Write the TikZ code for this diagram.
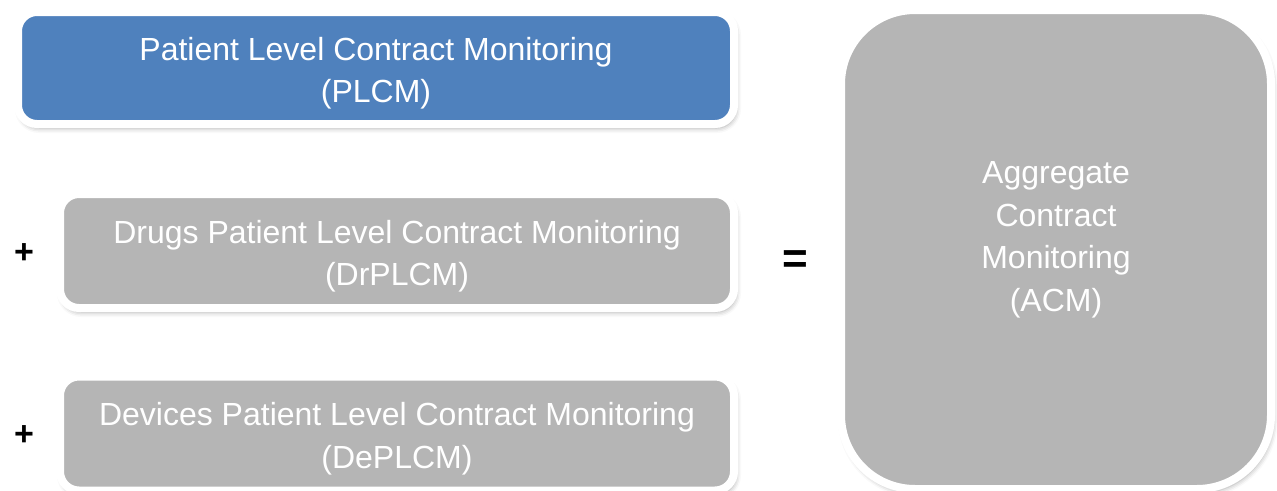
\documentclass[tikz,border=0pt]{standalone}
\usepackage{fontspec}
\setmainfont{Liberation Sans}
\usetikzlibrary{shadows.blur}
\definecolor{boxblue}{HTML}{4F81BD}
\definecolor{boxgray}{HTML}{B5B5B5}
\tikzset{
  card/.style={rounded corners=19pt, draw=white, line width=8pt,
    blur shadow={shadow xshift=2pt, shadow yshift=-4pt, shadow blur radius=5pt, shadow opacity=35},
    inner sep=0pt},
  bluecard/.style={card, fill=boxblue},
  graycard/.style={card, fill=boxgray},
  cardtext/.style={text=white, align=center, inner sep=0pt,
    font=\fontsize{32}{42.5}\selectfont},
  sign/.style={text=black, inner sep=0pt, font=\bfseries\fontsize{34}{38}\selectfont},
}
\begin{document}
\begin{tikzpicture}[x=1pt,y=-1pt]
\useasboundingbox (0,0) rectangle (1277,490);
\node[bluecard, minimum width=716pt, minimum height=112pt] (plcm) at (376,68) {};
\node[cardtext] (plcmtext) at (376,73) {Patient Level Contract Monitoring\\(PLCM)};
\node[graycard, minimum width=674pt, minimum height=114pt] (drplcm) at (397,251) {};
\node[cardtext] (drplcmtext) at (397,256) {Drugs Patient Level Contract Monitoring\\(DrPLCM)};
\node[graycard, minimum width=674pt, minimum height=114pt] (deplcm) at (397,433.5) {};
\node[cardtext] (deplcmtext) at (397,438.5) {Devices Patient Level Contract Monitoring\\(DePLCM)};
\node[graycard, rounded corners=74pt, minimum width=430pt, minimum height=479pt] (acm) at (1056,249.5) {};
\node[cardtext] (acmtext) at (1056,240) {Aggregate\\Contract\\Monitoring\\(ACM)};
\node[sign] (plus1) at (24,254) {+};
\node[sign] (plus2) at (24,436) {+};
\node[sign, font=\bfseries\fontsize{44}{48}\selectfont] (eq) at (795,262) {=};
\end{tikzpicture}
\end{document}
